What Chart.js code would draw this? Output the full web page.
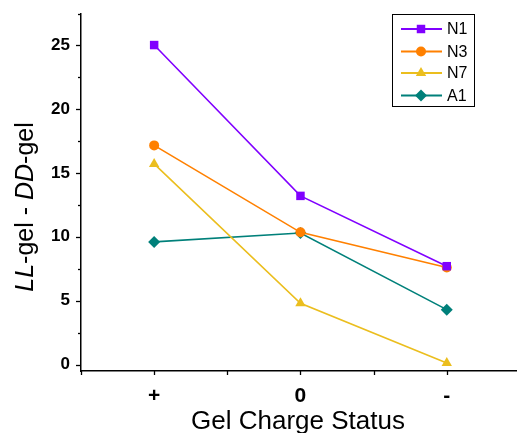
<!DOCTYPE html>
<html>
<head>
<meta charset="utf-8">
<script src="https://cdn.jsdelivr.net/npm/chart.js@4"></script>
<style>
  html, body { margin: 0; padding: 0; background: #fff; }
  #wrap { width: 517px; height: 433px; position: relative; }
</style>
</head>
<body>
<div id="wrap"><canvas id="gelChart"></canvas></div>
<script>
// categories on the x axis (placed at 0, 1, 2)
let categories = ['+', '0', '-'];
let seriesNames = ['N1', 'N3', 'N7', 'A1'];

let n1Values = [25.0, 13.2, 7.7];
let n3Values = [17.15, 10.35, 7.6];
let n7Values = [15.7, 4.8, 0.12];
let a1Values = [9.6, 10.3, 4.3];

let yTickLabels = [0, 5, 10, 15, 20, 25];

let seriesColors = ['#8000FF', '#FF8000', '#EBBE1E', '#00807A'];
let seriesMarkers = ['rect', 'circle', 'triangle', 'rectRot'];
let markerSizes = [6, 5, 6, 6];

function toPoints(values) {
    return values.map((v, i) => ({ x: i, y: v }));
}

let allValues = [n1Values, n3Values, n7Values, a1Values];
let datasets = seriesNames.map((name, i) => ({
    label: name,
    data: toPoints(allValues[i]),
    borderColor: seriesColors[i],
    backgroundColor: seriesColors[i],
    borderWidth: 1.6,
    pointStyle: seriesMarkers[i],
    pointRadius: markerSizes[i],
    pointBorderWidth: 0,
    showLine: true,
    tension: 0
}));

// draws tick marks, axis titles and the boxed legend
const decorations = {
    id: 'decorations',
    afterDraw(chart) {
        const ctx = chart.ctx;
        const xs = chart.scales.x;
        const ys = chart.scales.y;
        const area = chart.chartArea;
        ctx.save();
        ctx.strokeStyle = '#000';
        ctx.lineWidth = 1.3;

        // y ticks: long at labelled values, short at halves, plus one at the top end
        ys.ticks.forEach(t => {
            const py = Math.round(ys.getPixelForValue(t.value)) + 0.5;
            const major = yTickLabels.includes(t.value);
            const len = major ? 5 : 3;
            ctx.beginPath();
            ctx.moveTo(area.left - len, py);
            ctx.lineTo(area.left, py);
            ctx.stroke();
        });
        ctx.beginPath();
        ctx.moveTo(area.left - 3, area.top + 0.5);
        ctx.lineTo(area.left, area.top + 0.5);
        ctx.stroke();
        // x ticks
        xs.ticks.forEach(t => {
            const px = Math.round(xs.getPixelForValue(t.value)) + 0.5;
            ctx.beginPath();
            ctx.moveTo(px, area.bottom);
            ctx.lineTo(px, area.bottom + 4);
            ctx.stroke();
        });

        // x title
        ctx.fillStyle = '#000';
        ctx.font = '26px "Liberation Sans", Arial, sans-serif';
        ctx.textAlign = 'center';
        ctx.textBaseline = 'alphabetic';
        ctx.fillText('Gel Charge Status', 298, 429);

        // y title with italic parts
        const parts = [
            { t: 'LL', it: true }, { t: '-gel - ', it: false },
            { t: 'DD', it: true }, { t: '-gel', it: false }
        ];
        const fontFor = p => (p.it ? 'italic ' : '') + '25px "Liberation Sans", Arial, sans-serif';
        let total = 0;
        parts.forEach(p => { ctx.font = fontFor(p); total += ctx.measureText(p.t).width; });
        ctx.translate(33, 207);
        ctx.rotate(-Math.PI / 2);
        ctx.textAlign = 'left';
        let cx = -total / 2;
        parts.forEach(p => {
            ctx.font = fontFor(p);
            ctx.fillText(p.t, cx, 0);
            cx += ctx.measureText(p.t).width;
        });
        ctx.setTransform(1, 0, 0, 1, 0, 0);

        // legend box
        ctx.lineWidth = 1;
        ctx.strokeStyle = '#000';
        ctx.strokeRect(392.5, 14.5, 82, 92);
        const rowY = [29, 51.5, 73, 95.5];
        chart.data.datasets.forEach((ds, i) => {
            const y = rowY[i];
            ctx.strokeStyle = ds.borderColor;
            ctx.lineWidth = 2;
            ctx.beginPath();
            ctx.moveTo(401, y);
            ctx.lineTo(442, y);
            ctx.stroke();
            ctx.fillStyle = ds.backgroundColor;
            Chart.helpers.drawPoint(ctx, {
                pointStyle: ds.pointStyle, radius: ds.pointRadius, rotation: 0, borderWidth: 0
            }, 421, y);
            ctx.fillStyle = '#000';
            ctx.font = '16px "Liberation Sans", Arial, sans-serif';
            ctx.textAlign = 'left';
            ctx.textBaseline = 'middle';
            ctx.fillText(ds.label, 447, y + 1);
        });
        ctx.restore();
    }
};

var ctx = document.getElementById('gelChart').getContext('2d');
var gelChart = new Chart(ctx, {
    type: 'scatter',
    data: { datasets: datasets },
    options: {
        responsive: true,
        maintainAspectRatio: false,
        animation: false,
        layout: { autoPadding: false, padding: { top: 14, right: 0, left: 0, bottom: 0 } },
        plugins: {
            legend: { display: false },
            tooltip: { enabled: false }
        },
        scales: {
            x: {
                type: 'linear',
                min: -0.5,
                max: 2.48,
                afterFit: function(scale) {
                    scale.height = 62;
                    scale.paddingLeft = 0;
                    scale.paddingRight = 0;
                },
                grid: { display: false, drawTicks: false },
                border: { display: true, color: '#000', width: 1.5 },
                ticks: {
                    stepSize: 0.5,
                    includeBounds: false,
                    autoSkip: false,
                    maxRotation: 0,
                    padding: 13,
                    color: '#000',
                    font: { family: '"Liberation Sans", Arial, sans-serif', size: 21, weight: 'bold' },
                    callback: function(value) {
                        return Number.isInteger(value) && categories[value] !== undefined ? categories[value] : '';
                    }
                }
            },
            y: {
                min: -0.5,
                max: 27.43,
                afterFit: function(scale) {
                    scale.width = 81;
                    scale.paddingTop = 0;
                    scale.paddingBottom = 0;
                },
                grid: { display: false, drawTicks: false },
                border: { display: true, color: '#000', width: 1.5 },
                ticks: {
                    stepSize: 2.5,
                    includeBounds: false,
                    autoSkip: false,
                    padding: 11,
                    color: '#000',
                    font: { family: '"Liberation Sans", Arial, sans-serif', size: 17, weight: 'bold' },
                    callback: function(value) {
                        return yTickLabels.includes(value) ? String(value) : '';
                    }
                }
            }
        }
    },
    plugins: [decorations]
});
</script>
</body>
</html>
